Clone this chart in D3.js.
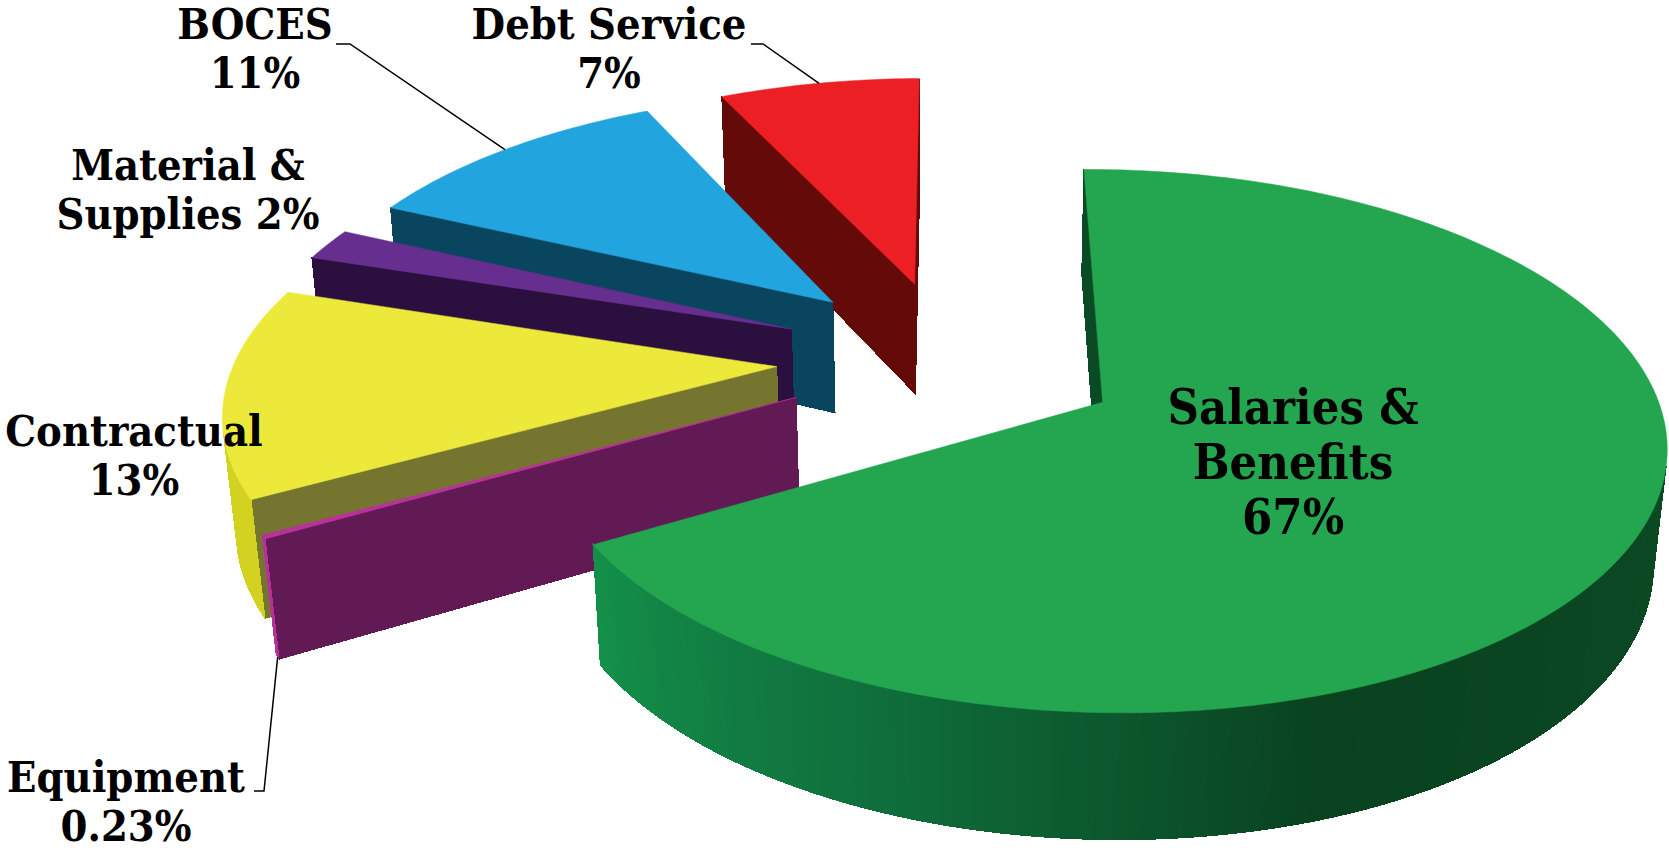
<!DOCTYPE html>
<html>
<head>
<meta charset="utf-8">
<title>Expenditures pie</title>
<script src="https://cdn.jsdelivr.net/npm/d3@7"></script>
<style>
  html, body { margin: 0; padding: 0; background: #fff; }
  svg { display: block; }
  text { font-family: "DejaVu Serif Condensed", "DejaVu Serif", serif; font-stretch: condensed; font-weight: bold; font-size: 43px; fill: #000; text-anchor: middle; }
  text.big { font-size: 48.5px; }
</style>
</head>
<body>
<div id="chart"></div>
<script>
/* chart data, clockwise from the top */
var categories = ['Salaries & Benefits', 'Equipment', 'Contractual', 'Material & Supplies', 'BOCES', 'Debt Service'];
var shares = [67, 0.23, 13, 2, 11, 7];
var labelLines = [
  ['Salaries &', 'Benefits', '67%'],
  ['Equipment', '0.23%'],
  ['Contractual', '13%'],
  ['Material &', 'Supplies 2%'],
  ['BOCES', '11%'],
  ['Debt Service', '7%']
];

/* styling per slice */
var topColors = ['#24a54f', '#b83398', '#ece93b', '#662f8f', '#22a4de', '#ec2024'];
var faceColors = ['#0a4a25', '#611a54', '#757530', '#2a0f3f', '#0a4560', '#640a08'];
var rimColors = [null, '#b5309a', '#d4d220', '#2a0f3f', '#0a4560', '#640a08'];

/* how far each slice is pulled out, in pie radii on the pie plane */
var explode = [[0, 0], [-0.553, 0.002], [-0.598, 0.119], [-0.583, 0.269], [-0.513, 0.382], [-0.361, 0.463]];

/* label positions: centre x, first baseline, line step */
var labelPos = [[1293, 424, 55], [126, 792, 49], [134, 446, 49], [188, 180, 49], [255, 39, 49], [609, 39, 49]];

var width = 1669, height = 850;
var tiltK = 0.143, tiltJ = 0.0052, sink = 0.0192;   // perspective on the plane and along the depth
var depthX = 0.00512, depthY = 0.44, shear = 0.03;
var rad = Math.PI / 180;

var xScale = d3.scaleLinear().domain([-1, 1]).range([1102.6 - 555.9, 1102.6 + 555.9]);
var yScale = d3.scaleLinear().domain([-1, 1]).range([402.3 + 266, 402.3 - 266]);

function project(X, Y, Z) {
  var w = 1 + tiltK * Y - tiltJ * X - sink * Z;
  return [xScale((X + depthX * Z) / w), yScale((Y + depthY * Z - shear * X) / w)];
}

function polar(i, a, r) {
  return [explode[i][0] + r * Math.sin(a), explode[i][1] + r * Math.cos(a)];
}

var svg = d3.select('#chart').append('svg').attr('width', width).attr('height', height);
var line = d3.line();

var arcs = d3.pie().sort(null).value(function(d) { return d; })
  .startAngle(-2.2 * rad).endAngle((360 - 2.2) * rad)(shares);

var greenRim = d3.scaleLinear()
  .domain([238, 200, 160, 100])
  .range(['#14904a', '#0f6e3c', '#09421f', '#0b4a24'])
  .clamp(true);

function drawQuad(g, p, q, color) {
  var quad = [project(p[0], p[1], 0), project(q[0], q[1], 0), project(q[0], q[1], -1), project(p[0], p[1], -1)];
  // d3.polygonArea comes out positive for the quads facing the viewer here
  if (d3.polygonArea(quad) <= 0) {
    return;
  }
  g.append('path').attr('d', line(quad) + 'Z')
    .attr('fill', color).attr('stroke', color).attr('stroke-width', 1)
    .attr('shape-rendering', 'crispEdges');
}

function drawSlice(i) {
  var d = arcs[i];
  var g = svg.append('g').attr('class', 'slice').attr('data-name', categories[i]);
  var apex = explode[i];
  var steps = Math.max(2, Math.ceil((d.endAngle - d.startAngle) / rad));
  var pts = d3.range(steps + 1).map(function(s) {
    return polar(i, d.startAngle + (d.endAngle - d.startAngle) * s / steps, 1);
  });

  drawQuad(g, apex, pts[0], faceColors[i]);
  drawQuad(g, pts[steps], apex, faceColors[i]);
  for (var s = 0; s < steps; s++) {
    var deg = (d.startAngle + (d.endAngle - d.startAngle) * (s + 0.5) / steps) / rad;
    drawQuad(g, pts[s], pts[s + 1], rimColors[i] || greenRim(deg));
  }

  var outline = [apex].concat(pts).map(function(p) { return project(p[0], p[1], 0); });
  g.append('path').attr('d', line(outline) + 'Z')
    .attr('fill', topColors[i]).attr('stroke', topColors[i]).attr('stroke-width', 0.5);
}

/* back slices first, green goes last */
d3.range(arcs.length - 1, -1, -1).forEach(drawSlice);

/* leader lines: elbow next to the label, end on the slice */
function midPoint(i, Z) {
  var p = polar(i, (arcs[i].startAngle + arcs[i].endAngle) / 2, 1);
  return project(p[0], p[1], Z);
}
var leaders = [
  [[336, 44], [350, 44], midPoint(4, 0)],
  [[751, 44], [763, 44], midPoint(5, 0)],
  [[254, 791], [264, 791], midPoint(1, -1)]
];
svg.selectAll('path.leader').data(leaders).enter().append('path')
  .attr('class', 'leader')
  .attr('d', line)
  .attr('fill', 'none').attr('stroke', '#000').attr('stroke-width', 1.5);

/* labels */
labelLines.forEach(function(lines, i) {
  var t = svg.append('text').classed('big', i === 0);
  lines.forEach(function(str, j) {
    t.append('tspan')
      .attr('x', labelPos[i][0])
      .attr('y', labelPos[i][1] + j * labelPos[i][2])
      .text(str);
  });
});
</script>
</body>
</html>
